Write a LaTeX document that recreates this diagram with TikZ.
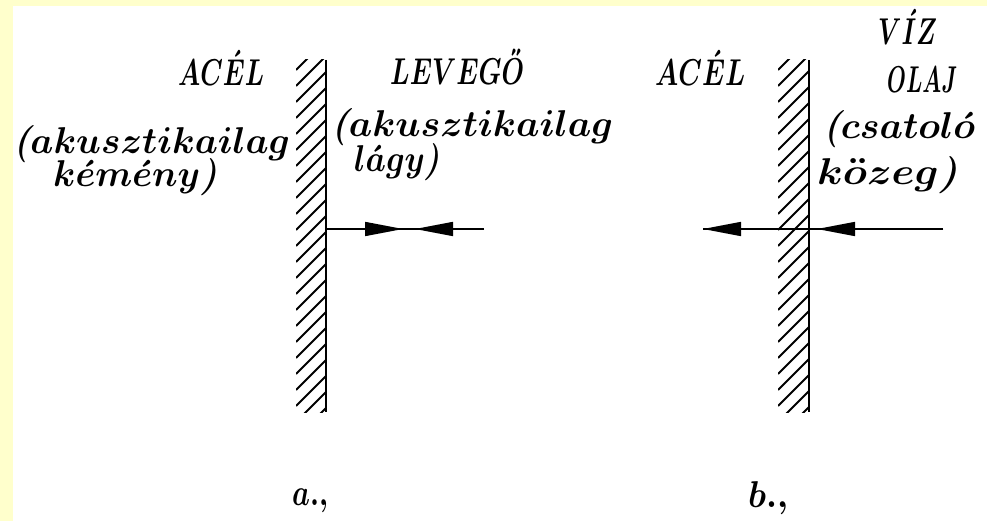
\documentclass[tikz,border=0pt]{standalone}
\usepackage{graphicx}
\usetikzlibrary{arrows.meta}
\definecolor{BackClr}{rgb}{1,1,0.8}
% every word gets its measured width, and is set taller
\newcommand{\Up}[2]{\resizebox{#1pt}{1.5\height}{$#2$}}
\newcommand{\Lo}[2]{\resizebox{#1pt}{1.5\height}{$#2$}}
\newcommand{\Hu}[1]{\mathaccent"707D{#1}}
\newcommand{\Lp}{\mbox{\bfseries\itshape(}}
\newcommand{\Rp}{\mbox{\bfseries\itshape)}}

\begin{document}
\begin{tikzpicture}[x=1pt,y=-1pt,
  wall/.style={line width=2.4pt},
  hatch/.style={line width=1.8pt},
  ray/.style={line width=1.6pt},
  tip/.style={-{Triangle[length=38pt,width=14pt]}},
  txt/.style={anchor=base west,inner sep=0pt,font=\boldmath\fontsize{24.88}{30}\selectfont}]
\fill[BackClr] (0,0) rectangle (987,521);
\fill[white] (13,6) rectangle (987,521);
\useasboundingbox (0,0) rectangle (987,521);

\coordinate (wallAtop) at (326,60);
\coordinate (wallAbot) at (326,412);
\coordinate (wallBtop) at (809,60);
\coordinate (wallBbot) at (809,412);

% hatched walls
\begin{scope}
\clip (296,60) rectangle (wallAbot);
\foreach \k in {0,...,23} \draw[hatch] (296,70+16*\k) -- ++(31,-31);
\end{scope}
\begin{scope}
\clip (778,60) rectangle (wallBbot);
\foreach \k in {0,...,23} \draw[hatch] (778,70+16*\k) -- ++(32,-32);
\end{scope}
\draw[wall] (wallAtop) -- (wallAbot);
\draw[wall] (wallBtop) -- (wallBbot);

% a.,
\coordinate (rayAwall) at (326,229);
\coordinate (rayAend) at (484,229);
\coordinate (tipA1) at (403,229);
\coordinate (tipA2) at (415,229);
\draw[ray] (rayAwall) -- (rayAend);
\draw[ray,tip] (rayAwall) -- (tipA1);
\draw[ray,tip] (rayAend) -- (tipA2);

% b.,
\coordinate (rayBbeg) at (703,229);
\coordinate (rayBend) at (943,229);
\coordinate (tipB2) at (817,229);
\draw[ray] (rayBbeg) -- (rayBend);
\draw[ray,tip] (rayBend) -- (rayBbeg);
\draw[ray,tip] (rayBend) -- (tipB2);

\node[txt] (acelA) at (178,86) {\Up{86}{AC\acute{E}L}};
\node[txt] (levego) at (390,85) {\Up{134}{LEVEG\Hu{O}}};
\node[txt] (kemenyA) at (13,154) {\Lo{277}{\Lp akusztikailag}};
\node[txt] (kemenyB) at (53,187) {\Lo{164}{k\acute{e}m\acute{e}ny\Rp}};
\node[txt] (lagyA) at (331,137) {\Lo{282}{\Lp akusztikailag}};
\node[txt] (lagyB) at (354,172) {\Lo{86}{l\acute{a}gy\Rp}};
\node[txt] (acelB) at (655,86) {\Up{90}{AC\acute{E}L}};
\node[txt] (viz) at (878,45) {\Up{59}{V\acute{I}Z}};
\node[txt] (olaj) at (887,93) {\Up{70}{OLAJ}};
\node[txt] (csatA) at (823,139) {\Lo{152}{\Lp csatol\acute{o}}};
\node[txt] (csatB) at (817,185) {\Lo{141}{k\ddot{o}zeg\Rp}};
\node[txt] (capA) at (292,505) {\Lo{36}{a.,}};
\node[txt] (capB) at (748,507) {\Lo{40}{b.,}};
\end{tikzpicture}
\end{document}
